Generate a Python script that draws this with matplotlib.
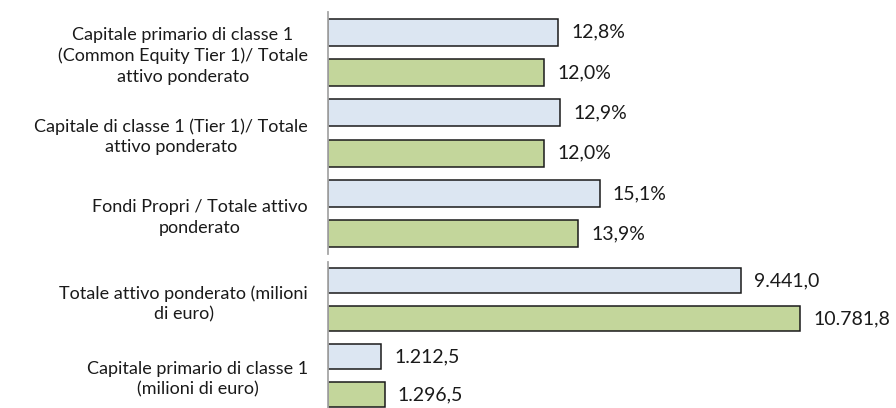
import matplotlib
matplotlib.use("Agg")
import matplotlib.pyplot as plt

plt.rcParams['font.family'] = ['Lato', 'DejaVu Sans']

# ---- data ----
pct_categories = [
    "Capitale primario di classe 1\n(Common Equity Tier 1)/ Totale\nattivo ponderato",
    "Capitale di classe 1 (Tier 1)/ Totale\nattivo ponderato",
    "Fondi Propri / Totale attivo\nponderato",
]
pct_series_a = [12.8, 12.9, 15.1]   # light blue
pct_series_b = [12.0, 12.0, 13.9]   # green

mln_categories = [
    "Totale attivo ponderato (milioni\ndi euro)",
    "Capitale primario di classe 1\n(milioni di euro)",
]
mln_series_a = [9441.0, 1212.5]
mln_series_b = [10781.8, 1296.5]

COL_A = "#dce6f2"
COL_B = "#c3d69b"
EDGE = "#1a1a1a"
AXCOL = "#a6a6a6"


def fmt_it(v, dec=1):
    s = f"{v:,.{dec}f}"
    return s.replace(",", "X").replace(".", ",").replace("X", ".")


W, H = 896, 408
fig = plt.figure(figsize=(W / 100, H / 100), dpi=100)

ax_left = 328 / W
ax_w = (W - 328) / W

# top axes (percentages)
top_y0, top_y1 = 12, 254
ax1 = fig.add_axes([ax_left, 1 - top_y1 / H, ax_w, (top_y1 - top_y0) / H])
# bottom axes (millions)
bot_y0, bot_y1 = 262, 413.4
ax2 = fig.add_axes([ax_left, 1 - bot_y1 / H, ax_w, (bot_y1 - bot_y0) / H])


def draw(ax, cats, a, b, xmax, fmt, bar_h):
    n = len(cats)
    ya = [2 * i for i in range(n)]
    yb = [2 * i + 1 for i in range(n)]
    ax.barh(ya, a, height=bar_h, color=COL_A, edgecolor=EDGE, linewidth=1.1)
    ax.barh(yb, b, height=bar_h, color=COL_B, edgecolor=EDGE, linewidth=1.1)
    for y, v in zip(ya, a):
        ax.annotate(fmt(v), (v, y), xytext=(9.4, 0), textcoords="offset points",
                    va="center", ha="left", fontsize=14, color="#1a1a1a")
    for y, v in zip(yb, b):
        ax.annotate(fmt(v), (v, y), xytext=(9.4, 0), textcoords="offset points",
                    va="center", ha="left", fontsize=14, color="#1a1a1a")
    ax.set_ylim(2 * n - 0.5, -0.5)
    ax.set_xlim(0, xmax)
    ax.set_yticks([2 * i + 0.5 for i in range(n)])
    ax.set_yticklabels(cats, fontsize=13, multialignment="center",
                       color="#1a1a1a", linespacing=1.35)
    ax.tick_params(axis="y", length=0, pad=14.4)
    ax.set_xticks([])
    for s in ["top", "right", "bottom"]:
        ax.spines[s].set_visible(False)
    ax.spines["left"].set_color(AXCOL)
    ax.spines["left"].set_linewidth(1.3)
    ax.patch.set_alpha(0)


draw(ax1, pct_categories, pct_series_a, pct_series_b, (W - 328) / 18.0,
     lambda v: fmt_it(v) + "%", 27 / 40.3)
draw(ax2, mln_categories, mln_series_a, mln_series_b, (W - 328) / 0.04378,
     lambda v: fmt_it(v), 25 / 37.8)

fig.savefig("out.png", dpi=100)
